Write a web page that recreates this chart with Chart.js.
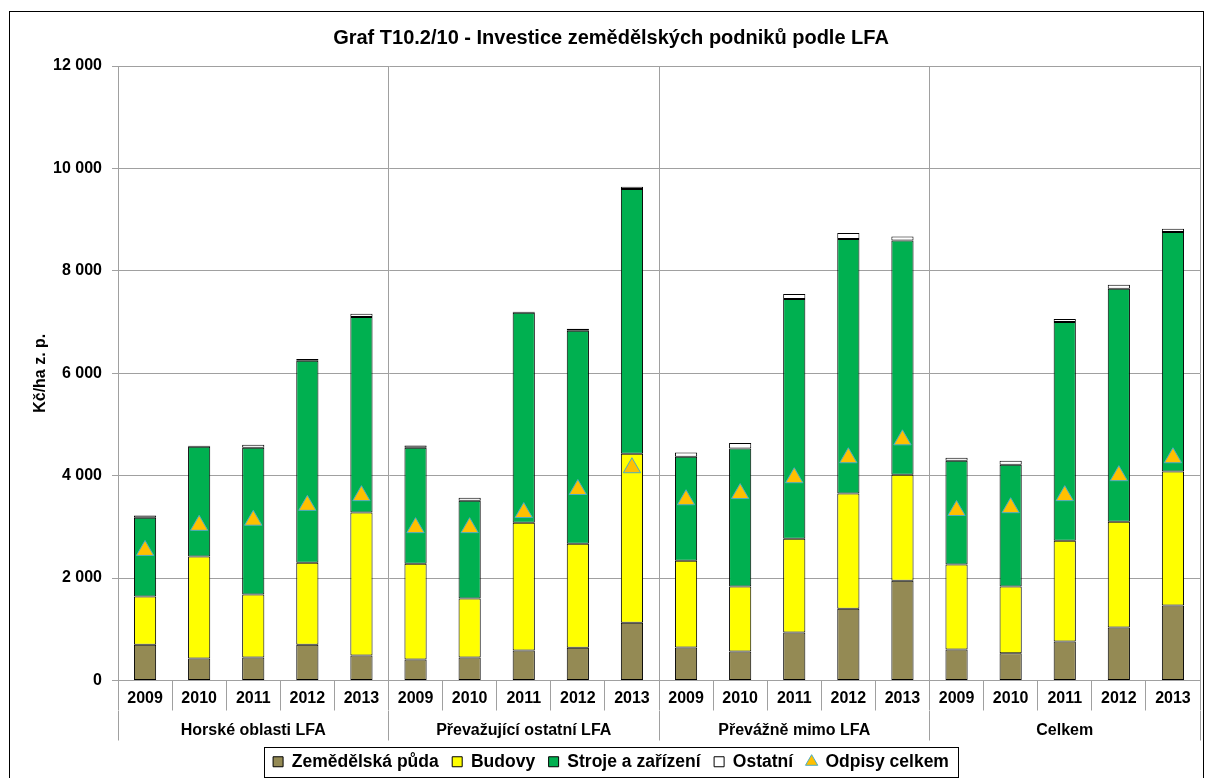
<!DOCTYPE html>
<html lang="cs">
<head>
<meta charset="utf-8">
<title>Graf T10.2/10</title>
<script src="https://cdn.jsdelivr.net/npm/chart.js@4/dist/chart.umd.min.js"></script>
<style>
  html, body { margin: 0; padding: 0; background: #fff; }
  #wrap { width: 1205px; height: 778px; }
</style>
</head>
<body>
<div id="wrap"><canvas id="barChart" width="1205" height="778"></canvas></div>
<script>
// roky a skupiny oblastí
const roky = ['2009', '2010', '2011', '2012', '2013'];
const oblasti = ['Horské oblasti LFA', 'Převažující ostatní LFA', 'Převážně mimo LFA', 'Celkem'];

// Kč/ha z. p., po oblastech (každá oblast 2009-2013)
const zemedelskaPuda = [
    700, 430, 450, 700, 490,
    410, 450, 585, 640, 1130,
    645, 565, 935, 1400, 1950,
    605, 530, 760, 1035, 1465
];
const budovy = [
    940, 1990, 1230, 1600, 2790,
    1870, 1150, 2495, 2030, 3300,
    1695, 1270, 1835, 2250, 2070,
    1660, 1305, 1970, 2065, 2615
];
const strojeAZarizeni = [
    1540, 2145, 2865, 3945, 3820,
    2265, 1910, 4100, 4160, 5170,
    2030, 2695, 4680, 4970, 4570,
    2025, 2380, 4270, 4550, 4680
];
const ostatni = [
    40, 20, 60, 35, 60,
    45, 60, 20, 40, 40,
    80, 110, 100, 120, 80,
    60, 75, 60, 80, 60
];
const odpisyCelkem = [
    2540, 3030, 3130, 3420, 3610,
    2985, 2985, 3280, 3730, 4155,
    3530, 3650, 3960, 4350, 4700,
    3320, 3375, 3610, 4000, 4350
];

const labels = [];
oblasti.forEach(() => roky.forEach(r => labels.push(r)));

const FONT = 'Arial, "Liberation Sans", sans-serif';
const GRID = '#a0a0a0';

Chart.defaults.font.family = FONT;
Chart.defaults.color = '#000';

function formatCislo(v)
{
    return String(v).replace(/\B(?=(\d{3})+(?!\d))/g, ' ');
}

function barSet(label, data, color)
{
    return {
        type: 'bar',
        label: label,
        data: data,
        backgroundColor: color,
        borderColor: '#000',
        borderWidth: 1,
        borderSkipped: false,
        barPercentage: 0.41,
        categoryPercentage: 1,
        pointStyle: 'rect',
        stack: 'investice',
        order: 2
    };
}

// pevná výška osy bez bočních okrajů
function pevnaVyska(h)
{
    return scale =>
    {
        scale.height = h;
        scale.paddingLeft = 0;
        scale.paddingRight = 0;
    };
}

// bílé pozadí a rámeček kolem celého grafu
const ramecek = {
    id: 'ramecek',
    beforeDraw(chart)
    {
        const ctx = chart.ctx;
        ctx.save();
        ctx.fillStyle = '#fff';
        ctx.fillRect(0, 0, chart.width, chart.height);
        ctx.strokeStyle = '#000';
        ctx.lineWidth = 1;
        ctx.strokeRect(9.5, 11.5, chart.width - 11, chart.height);
        ctx.restore();
    }
};

// rámeček kolem legendy
const legendaRamecek = {
    id: 'legendaRamecek',
    afterDraw(chart)
    {
        const boxes = chart.legend.legendHitBoxes;
        if (!boxes || !boxes.length) return;
        let l = Infinity, r = -Infinity, t = Infinity, b = -Infinity;
        boxes.forEach(h =>
        {
            l = Math.min(l, h.left);
            r = Math.max(r, h.left + h.width);
            t = Math.min(t, h.top);
            b = Math.max(b, h.top + h.height);
        });
        const ctx = chart.ctx;
        ctx.save();
        ctx.strokeStyle = '#000';
        ctx.lineWidth = 1;
        ctx.strokeRect(Math.round(l - 9) + 0.5, Math.round(t - 6) + 0.5,
            Math.round(r - l + 18), Math.round(b - t + 12));
        ctx.restore();
    }
};

const ctx = document.getElementById('barChart').getContext('2d');

new Chart(ctx, {
    data: {
        labels: labels,
        datasets: [
            barSet('Zemědělská půda', zemedelskaPuda, '#948A54'),
            barSet('Budovy', budovy, '#FFFF00'),
            barSet('Stroje a zařízení', strojeAZarizeni, '#00B050'),
            barSet('Ostatní', ostatni, '#FFFFFF'),
            {
                type: 'line',
                label: 'Odpisy celkem',
                data: odpisyCelkem,
                showLine: false,
                pointStyle: 'triangle',
                pointRadius: 10,
                pointHoverRadius: 10,
                backgroundColor: '#FFC000',
                borderColor: '#4BACC6',
                borderWidth: 1,
                stack: 'odpisy',
                order: 1
            }
        ]
    },
    options: {
        responsive: false,
        animation: false,
        layout: {
            autoPadding: false,
            padding: { left: 9, right: -8, top: 12, bottom: -2.5 }
        },
        plugins: {
            title: {
                display: true,
                text: 'Graf T10.2/10 - Investice zemědělských podniků podle LFA',
                font: { size: 20, weight: 'bold' },
                padding: { top: 14, bottom: 16 }
            },
            legend: {
                display: true,
                position: 'bottom',
                labels: {
                    usePointStyle: true,
                    boxWidth: 10,
                    boxHeight: 10,
                    padding: 13.5,
                    font: { size: 17.5, weight: 'bold' },
                    sort: (a, b) => a.datasetIndex - b.datasetIndex
                }
            },
            tooltip: { enabled: false }
        },
        scales: {
            x: {
                type: 'category',
                stacked: true,
                position: 'bottom',
                grid: {
                    offset: true,
                    drawOnChartArea: false,
                    tickLength: 30,
                    color: GRID
                },
                border: { display: true, color: GRID },
                ticks: {
                    padding: -22,
                    maxRotation: 0,
                    autoSkip: false,
                    font: { size: 16, weight: 'bold' }
                },
                afterFit: pevnaVyska(30)
            },
            x2: {
                type: 'category',
                position: 'bottom',
                labels: oblasti,
                offset: true,
                grid: {
                    offset: true,
                    drawOnChartArea: true,
                    tickLength: 30,
                    color: GRID
                },
                border: { display: false },
                ticks: {
                    padding: -19.8,
                    maxRotation: 0,
                    autoSkip: false,
                    font: { size: 16, weight: 'bold' }
                },
                afterFit: pevnaVyska(29)
            },
            y: {
                stacked: true,
                min: 0,
                max: 12000,
                grid: { color: GRID, tickLength: 6 },
                border: { display: true, color: GRID },
                ticks: {
                    stepSize: 2000,
                    padding: 10,
                    font: { size: 16, weight: 'bold' },
                    callback: v => formatCislo(v)
                },
                title: {
                    display: true,
                    text: 'Kč/ha z. p.',
                    font: { size: 16, weight: 'bold' },
                    padding: { top: 22, bottom: 0 }
                },
                afterFit(scale) { scale.width = 109; }
            },
            // prázdný pruh vpravo od grafu
            okraj: {
                type: 'linear',
                position: 'right',
                grid: { display: false },
                border: { display: false },
                ticks: { display: false },
                afterFit(scale) { scale.width = 13; }
            }
        }
    },
    plugins: [ramecek, legendaRamecek]
});
</script>
</body>
</html>
